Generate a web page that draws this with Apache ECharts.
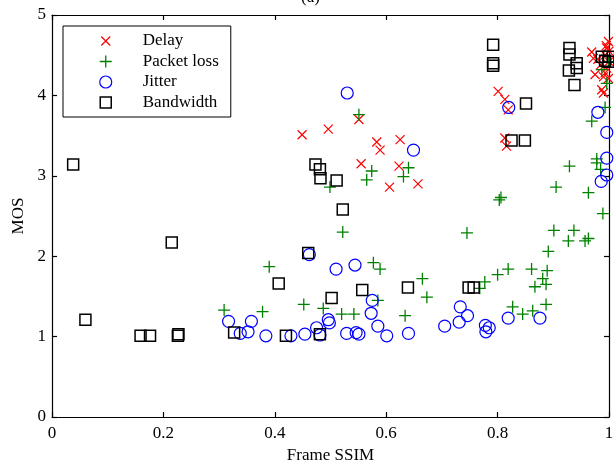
<!DOCTYPE html>
<html>
<head>
<meta charset="utf-8">
<script src="https://cdn.jsdelivr.net/npm/echarts@6/dist/echarts.min.js"></script>
<style>
  html, body { margin: 0; padding: 0; background: #ffffff; }
  #chart { width: 614px; height: 464px; }
</style>
</head>
<body>
<div id="chart"></div>
<script>
// Frame SSIM vs. MOS for four impairment types: [ssim, mos]
const delay = [
  [0.449, 3.51], [0.496, 3.58], [0.551, 3.70], [0.583, 3.42], [0.589, 3.32],
  [0.625, 3.45], [0.555, 3.15], [0.623, 3.12], [0.606, 2.86], [0.657, 2.90],
  [0.801, 4.05], [0.813, 3.95], [0.819, 3.82], [0.813, 3.47], [0.816, 3.37],
  [0.999, 4.67], [0.996, 4.59], [0.969, 4.54], [0.972, 4.46], [0.993, 4.50],
  [1.000, 4.42], [0.996, 4.34], [0.975, 4.26], [0.990, 4.23], [0.999, 4.21],
  [0.987, 4.07], [0.990, 4.03], [0.980, 4.45], [0.985, 4.38], [0.995, 4.62],
  [1.000, 4.55], [0.993, 4.28]
];
const packetLoss = [
  [0.309, 1.33], [0.390, 1.87], [0.378, 1.31], [0.452, 1.40], [0.487, 1.35],
  [0.520, 1.28], [0.542, 1.28], [0.522, 2.30], [0.577, 1.92], [0.589, 1.84],
  [0.665, 1.72], [0.673, 1.49], [0.585, 1.45], [0.634, 1.26], [0.745, 2.29],
  [0.777, 1.68], [0.768, 1.60], [0.800, 1.77], [0.819, 1.84], [0.861, 1.84],
  [0.867, 1.62], [0.827, 1.37], [0.845, 1.28], [0.863, 1.32], [0.905, 2.86],
  [0.806, 2.73], [0.803, 2.70], [0.963, 2.79], [0.989, 2.53], [0.901, 2.32],
  [0.937, 2.32], [0.927, 2.19], [0.957, 2.19], [0.963, 2.22], [0.891, 2.06],
  [0.889, 1.82], [0.881, 1.72], [0.887, 1.65], [0.887, 1.40], [0.978, 3.21],
  [0.929, 3.12], [0.985, 3.08], [0.969, 3.68], [0.993, 3.85], [0.987, 4.32],
  [0.996, 4.15], [0.999, 4.42], [0.551, 3.76], [0.574, 3.06], [0.565, 2.95],
  [0.640, 3.10], [0.631, 2.99], [0.499, 2.86], [0.978, 3.16]
];
const jitter = [
  [0.530, 4.03], [0.649, 3.32], [0.820, 3.85], [0.980, 3.79], [0.996, 3.54],
  [0.996, 3.22], [0.996, 3.01], [0.986, 2.93], [0.317, 1.19], [0.338, 1.04],
  [0.352, 1.06], [0.358, 1.19], [0.384, 1.01], [0.429, 1.01], [0.454, 1.03],
  [0.475, 1.11], [0.481, 1.02], [0.496, 1.21], [0.498, 1.17], [0.529, 1.04],
  [0.546, 1.05], [0.551, 1.03], [0.510, 1.84], [0.544, 1.89], [0.462, 2.02],
  [0.575, 1.45], [0.573, 1.29], [0.585, 1.13], [0.601, 1.01], [0.640, 1.04],
  [0.705, 1.13], [0.733, 1.37], [0.731, 1.18], [0.746, 1.26], [0.778, 1.14],
  [0.785, 1.11], [0.779, 1.06], [0.819, 1.23], [0.876, 1.23]
];
const bandwidth = [
  [0.038, 3.14], [0.215, 2.17], [0.060, 1.21], [0.159, 1.01], [0.176, 1.01],
  [0.227, 1.03], [0.226, 1.01], [0.327, 1.05], [0.407, 1.66], [0.420, 1.01],
  [0.481, 1.03], [0.502, 1.48], [0.522, 2.58], [0.460, 2.04], [0.557, 1.58],
  [0.639, 1.61], [0.748, 1.61], [0.757, 1.61], [0.473, 3.14], [0.481, 3.08],
  [0.482, 2.97], [0.511, 2.94], [0.792, 4.63], [0.792, 4.40], [0.792, 4.37],
  [0.851, 3.90], [0.825, 3.44], [0.849, 3.44], [0.929, 4.59], [0.929, 4.51],
  [0.942, 4.40], [0.942, 4.34], [0.928, 4.31], [0.938, 4.13], [0.987, 4.48],
  [1.000, 4.48], [0.993, 4.43], [0.999, 4.42]
];

const seriesNames = ['Delay', 'Packet loss', 'Jitter', 'Bandwidth'];
const xTicks = { min: 0, max: 1, interval: 0.2 };
const yTicks = { min: 0, max: 5, interval: 1 };

// Hollow marker outlines, each drawn inside a common 14x14 frame so that
// plot markers and legend icons keep the same relative sizes.
const MARK_X = 'path://M0,0M2.5,2.5L11.5,11.5M11.5,2.5L2.5,11.5M14,14';
const MARK_PLUS = 'path://M0,0M7,1L7,13M1,7L13,7M14,14';
const MARK_CIRCLE = 'path://M0,0M1,7A6,6,0,1,1,13,7A6,6,0,1,1,1,7ZM14,14';
const MARK_SQUARE = 'path://M0,0M1.5,1.5L12.5,1.5L12.5,12.5L1.5,12.5ZM14,14';

const FONT = 'Liberation Serif';
const styles = [
  { symbol: MARK_X, color: '#ff0000', width: 1.2 },
  { symbol: MARK_PLUS, color: '#008000', width: 1.3 },
  { symbol: MARK_CIRCLE, color: '#0000ff', width: 1.2 },
  { symbol: MARK_SQUARE, color: '#000000', width: 1.5 }
];
const datasets = [delay, packetLoss, jitter, bandwidth];

const chart = echarts.init(document.getElementById('chart'), null, { renderer: 'canvas' });

const axisLineStyle = { color: '#000', width: 1.2 };

function xAxis(position, showLabels) {
  return {
    type: 'value', position: position,
    min: xTicks.min, max: xTicks.max, interval: xTicks.interval,
    splitLine: { show: false },
    axisLine: { show: true, onZero: false, lineStyle: axisLineStyle },
    axisTick: { show: true, inside: true, length: 5, lineStyle: axisLineStyle },
    axisLabel: { show: showLabels, margin: 8, color: '#000', fontFamily: FONT, fontSize: 17 },
    name: showLabels ? 'Frame SSIM' : '',
    nameLocation: 'middle', nameGap: 24,
    nameTextStyle: { color: '#000', fontFamily: FONT, fontSize: 17 }
  };
}
function yAxis(position, showLabels) {
  return {
    type: 'value', position: position,
    min: yTicks.min, max: yTicks.max, interval: yTicks.interval,
    splitLine: { show: false },
    axisLine: { show: true, onZero: false, lineStyle: axisLineStyle },
    axisTick: { show: true, inside: true, length: 5, lineStyle: axisLineStyle },
    axisLabel: { show: showLabels, margin: 6, color: '#000', fontFamily: FONT, fontSize: 17 },
    name: showLabels ? 'MOS' : '',
    nameLocation: 'middle', nameGap: 25,
    nameTextStyle: { color: '#000', fontFamily: FONT, fontSize: 17 }
  };
}

chart.setOption({
  animation: false,
  backgroundColor: '#ffffff',
  title: {
    text: '(a)', left: 296, top: -16,
    textStyle: { color: '#000', fontFamily: FONT, fontSize: 17, fontWeight: 'normal' }
  },
  grid: { left: 52, right: 5, top: 15, bottom: 47, containLabel: false, outerBoundsMode: 'none' },
  xAxis: [xAxis('bottom', true), xAxis('top', false)],
  yAxis: [yAxis('left', true), yAxis('right', false)],
  legend: {
    orient: 'vertical', left: 63, top: 26,
    padding: [6.5, 12, 6, 35],
    itemWidth: 64, itemHeight: 14, itemGap: 3.5,
    backgroundColor: '#ffffff',
    borderColor: '#000', borderWidth: 1,
    selectedMode: false,
    textStyle: { color: '#000', fontFamily: FONT, fontSize: 17, lineHeight: 17 },
    data: seriesNames.map((n, i) => ({
      name: n, icon: styles[i].symbol,
      itemStyle: { color: 'transparent', borderColor: styles[i].color, borderWidth: styles[i].width }
    }))
  },
  series: seriesNames.map((n, i) => ({
    name: n, type: 'scatter',
    xAxisIndex: 0, yAxisIndex: 0,
    data: datasets[i],
    symbol: styles[i].symbol, symbolSize: 14,
    clip: false,
    itemStyle: { color: 'transparent', borderColor: styles[i].color, borderWidth: styles[i].width, opacity: 1 },
    emphasis: { disabled: true }
  }))
});
</script>
</body>
</html>
